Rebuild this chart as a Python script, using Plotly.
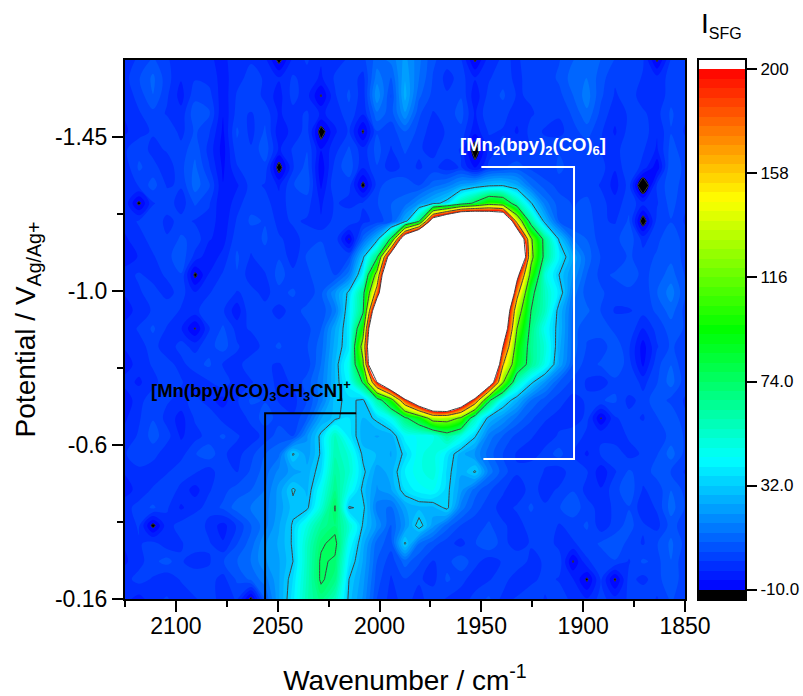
import plotly.graph_objects as go

FONT = "Liberation Sans"

wavenumber = [2125,2118.125,2111.25,2104.375,2097.5,2090.625,2083.75,2076.875,2070,2063.125,
              2056.25,2049.375,2042.5,2035.625,2028.75,2021.875,2015,2008.125,2001.25,1994.375,
              1987.5,1980.625,1973.75,1966.875,1960,1953.125,1946.25,1939.375,1932.5,1925.625,
              1918.75,1911.875,1905,1898.125,1891.25,1884.375,1877.5,1870.625,1863.75,1856.875,1850]

potential = [-1.665,-1.615,-1.565,-1.515,-1.465,-1.415,-1.365,-1.315,-1.265,-1.215,
             -1.165,-1.115,-1.065,-1.015,-0.965,-0.915,-0.865,-0.815,-0.765,-0.715,
             -0.665,-0.615,-0.565,-0.515,-0.465,-0.415,-0.365,-0.315,-0.265,-0.215,-0.16]

i_sfg = [
 [0,2,6,2,-1,0,-2,-3,-1,1, -1,-12,-1,2,-2,0,2,4,11,14, 22,14,6,3,2,-11,0,2,1,3, 2,5,9,11,9,5,3,2,-11,2,3],
 [0,5,10,3,-2,1,0,-4,0,3, 1,-2,2,0,-3,2,4,0,15,9, 24,13,5,0,3,-2,1,4,0,4, 3,6,11,13,7,2,4,1,-1,3,5],
 [-1,3,9,2,-4,4,3,-5,2,5, 0,-4,3,-1,-10.5,1,6,-1,20,5, 26,10,4,2,5,-5,3,6,1,2, 5,4,9,15,6,1,3,0,-2,4,3],
 [-2,1,4,1,-1,8,6,-6,3,1, 4,-3,0,2,-3,-1,4,-2,12,7, 20,6,1,3,7,-3,5,3,-1,1, 3,2,6,12,4,-1,2,2,0,6,2],
 [-3,0,2,5,0,6,2,-7,6,0, 6,-5,-1,3,-13,-3,2,-11,5,3, 9,4,-1,2,4,-5,2,1,-3,3, 1,0,4,7,2,-3,3,4,-2,5,1],
 [1,4,0,2,3,8,0,-8,4,2, 8,-3,2,5,-6,0,6,-1,7,1, 6,2,0,4,1,-14,-1,3,2,1, 3,5,2,3,1,0,4,2,-3,7,3],
 [-1,6,3,-1,4,10,2,-7,1,5, 4,-13,1,7,-9,3,8,-2,5,-1, 3,1,3,-1,2,-7,3,5,7,4, 2,6,4,5,3,-2,5,0,-9,9,4],
 [-2,2,7,1,2,11,6,-6,-3,3, 1,-3,5,8,-7,5,3,-12,3,9, 7,5,11,15,22,26,30,31,25,13, 7,4,3,4,1,-4,3,-18,2,8,3],
 [0,-11.5,1,4,-1,6,2,-6,0,4, 3,-1,4,3,-3,2,0,2,5,9, 11,20,28,36,60,78,102,95,60,33, 15,7,5,6,3,-1,4,-1,1,7,2],
 [-1,2,5,0,3,1,0,-5,2,6, 5,0,2,1,-2,3,5,0,3,8, 26,70,240,300,356,352,320,305,145,62, 28,9,5,8,2,1,6,-14,3,5,1],
 [-3,0,3,2,6,4,-2,-4,4,3, 6,2,0,3,5,4,-10.3,11,28,78, 260,350,380,390,390,380,360,340,280,120, 65,31,13,9,3,4,8,0,4,9,3],
 [-5,-2,1,4,8,0,-5,-1,6,1, 4,5,-1,6,7,3,5,30,70,240, 350,390,400,400,400,400,390,370,320,125, 66,40,24,11,5,2,6,3,6,8,4],
 [0,2,0,2,5,-11.5,-2,2,5,-1, 1,7,3,4,9,5,15,42,130,320, 390,400,400,400,400,400,390,340,215,105, 50,32,20,9,4,6,8,4,7,11,5],
 [-2,1,3,0,3,-2,1,5,1,3, 0,4,6,2,8,20,34,66,175,330, 400,400,400,400,400,400,380,330,170,80, 55,38,15,7,6,3,4,2,9,15,6],
 [-4,-1,2,4,1,0,5,2,-5,5, 3,0,3,7,6,15,38,70,260,360, 400,400,400,400,400,400,340,260,135,74, 55,28,12,10,5,1,1,3,6,11,4],
 [-1,2,6,1,-2,-10.5,1,6,0,2, 5,3,5,4,9,24,38,100,340,390, 400,400,400,400,400,390,340,240,116,68, 45,28,11,6,8,4,5,-3,3,7,5],
 [-2,0,3,-1,3,0,4,7,2,-1, 3,6,2,5,11,26,38,130,350,400, 400,400,400,400,400,380,340,200,100,65, 50,26,11,5,3,8,2,-8,1,6,3],
 [-4,-1,2,3,0,4,6,1,0,4, 2,1,4,3,13,28,46,110,340,400, 400,400,400,400,400,370,320,160,92,65, 46,24,9,3,6,9,3,-7,4,9,2],
 [-1,-3,0,4,2,-2,1,4,-1,1, 4,0,2,7,15,28,42,76,200,280, 380,400,400,400,400,340,240,118,55,34, 20,9,4,1,-1,4,5,0,5,11,3],
 [-5,0,4,2,0,3,-1,-4,1,6, 5,1,0,5,15,30,34,30,60,100, 190,254,310,320,256,185,78,40,26,13, 7,3,0,2,5,6,0,3,8,4,1],
 [-3,1,5,0,-4,2,5,0,-2,3, 7,4,2,9,24,30,36,28,34,45, 70,92,130,130,112,55,28,20,12,6, 2,0,-2,3,-10.4,1,3,1,5,9,2],
 [-1,2,7,3,-3,0,3,6,2,-1, 3,7,5,20,34,56,38,26,24,26, 42,44,46,62,48,33,15,9,4,2, -1,2,5,0,1,-1,2,4,2,7,5],
 [1,5,3,-1,0,5,8,2,0,4, 9,12,33,22,33,58,50,30,28,24, 34,46,50,38,26,20,11,5,1,-1, 3,7,1,-3,2,4,0,2,5,11,4],
 [-2,0,-1,1,4,2,-1,5,1,6, 11,18,22,26,36,62,52,34,22,26, 40,46,50,35,25,33,15,7,2,5, 1,-1,4,2,-5,1,6,3,7,5,1],
 [-4,-1,2,5,0,-4,1,4,7,9, 13,22,33,27,44,66,46,30,20,24, 36,42,44,34,22,11,6,2,-1,3, 0,2,5,0,-2,4,8,1,3,9,4],
 [0,3,6,2,-3,0,3,6,11,13, 15,22,30,30,50,75,31,34,15,12, 24,27,27,34,15,7,3,0,2,6, 2,5,8,3,0,2,5,-1,2,11,5],
 [-1,2,-12,0,3,5,0,-4,2,9, 15,24,33,48,64,70,52,31,20,9, 20,36,22,11,5,3,6,2,0,3, 5,1,3,6,-1,3,7,2,0,7,3],
 [-2,1,3,-1,1,4,2,-2,5,11, 20,25,33,54,72,78,44,26,11,7, 33,13,7,3,0,5,9,3,-1,2, 4,0,1,3,6,8,4,1,5,10,4],
 [-3,0,4,7,2,-1,1,5,9,13, 20,24,32,55,76,72,38,24,9,3, 11,6,1,4,8,3,-1,2,5,0, 2,4,-10.5,1,3,5,1,6,4,9,2],
 [0,3,1,-2,2,5,3,0,6,10, 15,24,36,56,76,68,32,22,7,1, 5,2,0,6,3,-1,1,4,-2,0, 3,1,-2,-11,2,-11,3,0,4,8,3],
 [-1,-4,0,2,-2,1,4,-1,2,-12, 9,24,38,58,68,56,30,20,5,0, 3,0,4,1,-1,3,6,0,2,5, 1,4,0,-2,3,-1,2,5,1,6,2],
]

x_major = [2100, 2050, 2000, 1950, 1900, 1850]
x_minor = [2125, 2075, 2025, 1975, 1925, 1875]
y_major = [-1.45, -1.02, -0.59, -0.16]
y_major_text = ["-1.45", "-1.0", "-0.6", "-0.16"]
y_minor = [-1.235, -0.805, -0.375]
bar_ticks = [-10, 32, 74, 116, 158, 200]
bar_text = ["-10.0", "32.0", "74.0", "116", "158", "200"]

LEVEL_MIN, LEVEL_MAX, N_BANDS = -10, 200, 55
STEP = (LEVEL_MAX - LEVEL_MIN) / N_BANDS
LOW = LEVEL_MIN - STEP / 2
HIGH = LEVEL_MAX + STEP / 2


def pos(v):
    return (v - LOW) / (HIGH - LOW)


scale = [
    [0, "#000000"], [pos(LEVEL_MIN), "#000000"],
    [pos(LEVEL_MIN), "#0000ff"],
    [pos(42.5), "#00ffff"],
    [pos(95), "#00ff00"],
    [pos(147.5), "#ffff00"],
    [pos(LEVEL_MAX), "#ff0000"],
    [pos(LEVEL_MAX), "#ffffff"], [1, "#ffffff"],
]

bar_edges = [LEVEL_MIN + STEP * k for k in range(-1, N_BANDS + 2)]
bar_mids = [(a + b) / 2 for a, b in zip(bar_edges[:-1], bar_edges[1:])]

fig = go.Figure()
fig.add_trace(go.Contour(
    x=wavenumber, y=potential, z=i_sfg, autocontour=False, colorscale=scale, showscale=False,
    contours=dict(start=LEVEL_MIN, end=LEVEL_MAX, size=STEP, coloring="fill", showlines=False),
    line=dict(width=0), hoverinfo="skip",
))
fig.add_trace(go.Contour(
    x=wavenumber, y=potential, z=i_sfg, autocontour=False, showscale=False,
    contours=dict(start=LEVEL_MIN, end=LEVEL_MAX, size=42, coloring="none", showlines=True),
    line=dict(color="#404040", width=1, smoothing=0), hoverinfo="skip",
))
fig.add_trace(go.Heatmap(
    x=[0, 1], y=bar_edges, z=[[m] for m in bar_mids], zmin=LOW, zmax=HIGH,
    colorscale=scale, showscale=False, xaxis="x2", yaxis="y2", hoverinfo="skip",
))

BLACK = "#000000"
fig.update_layout(
    width=803, height=696, autosize=False,
    margin=dict(l=125, r=58, t=60, b=97),
    paper_bgcolor="white", plot_bgcolor="white",
    font=dict(family=FONT, size=23, color=BLACK),
    showlegend=False,
    xaxis=dict(
        domain=[0, 560 / 620], range=[2125, 1850], tickmode="array", tickvals=x_major, automargin=False,
        ticks="outside", ticklen=11, tickwidth=2, tickcolor=BLACK,
        showline=True, linecolor=BLACK, linewidth=2, mirror=True, showgrid=False, zeroline=False,
        minor=dict(tickmode="array", tickvals=x_minor, ticks="outside", ticklen=6, tickwidth=2, tickcolor=BLACK, showgrid=False),
        tickfont=dict(size=23), ticklabelstandoff=-6,
        title=dict(text="Wavenumber / cm<sup>-1</sup>", font=dict(size=28), standoff=33),
    ),
    yaxis=dict(
        domain=[0, 1], range=[-0.16, -1.665], tickmode="array", tickvals=y_major, ticktext=y_major_text, automargin=False,
        ticks="outside", ticklen=11, tickwidth=2, tickcolor=BLACK,
        showline=True, linecolor=BLACK, linewidth=2, mirror=True, showgrid=False, zeroline=False,
        minor=dict(tickmode="array", tickvals=y_minor, ticks="outside", ticklen=6, tickwidth=2, tickcolor=BLACK, showgrid=False),
        tickfont=dict(size=23),
        title=dict(text="Potential / V<sub>Ag/Ag+</sub>", font=dict(size=28), standoff=11),
    ),
    xaxis2=dict(
        domain=[574 / 620, 1], range=[0, 1], showticklabels=False, ticks="", anchor="y2", automargin=False,
        showline=True, linecolor=BLACK, linewidth=2, mirror=True, showgrid=False, zeroline=False,
    ),
    yaxis2=dict(
        domain=[0, 1], range=[LEVEL_MIN - STEP, LEVEL_MAX + STEP], anchor="x2", side="right", automargin=False,
        tickmode="array", tickvals=bar_ticks, ticktext=bar_text, ticks="outside", ticklen=10, tickwidth=2, tickcolor=BLACK,
        showline=True, linecolor=BLACK, linewidth=2, mirror=True, showgrid=False, zeroline=False,
        tickfont=dict(size=17),
    ),
    shapes=[
        dict(type="path", xref="x", yref="y", path="M 1950 -1.366 L 1904.5 -1.366 L 1904.5 -0.551 L 1949 -0.551",
             line=dict(color="white", width=2)),
        dict(type="path", xref="x", yref="y", path="M 2056.2 -0.16 L 2056.2 -0.679 L 2011.5 -0.679",
             line=dict(color=BLACK, width=2)),
    ],
    annotations=[
        dict(text="<b>[Mn(bpy)(CO)<sub>3</sub>CH<sub>3</sub>CN]<sup>+</sup></b>", x=2063, y=-0.741, xref="x", yref="y",
             showarrow=False, font=dict(size=18.5, color=BLACK)),
        dict(text="<b>[Mn<sub>2</sub>(bpy)<sub>2</sub>(CO)<sub>6</sub>]</b>", x=1924.6, y=-1.425, xref="x", yref="y",
             showarrow=False, font=dict(size=18.5, color="white")),
        dict(text="I<sub><span style='font-size:16px'>SFG</span></sub>", x=(699 - 125) / 620, y=(599 - 25) / 539,
             xref="paper", yref="paper", xanchor="left", yanchor="middle",
             showarrow=False, font=dict(size=28, color=BLACK)),
    ],
)
fig.write_html("out.html", post_script="document.body.style.margin='0';", config={"displayModeBar": False})
